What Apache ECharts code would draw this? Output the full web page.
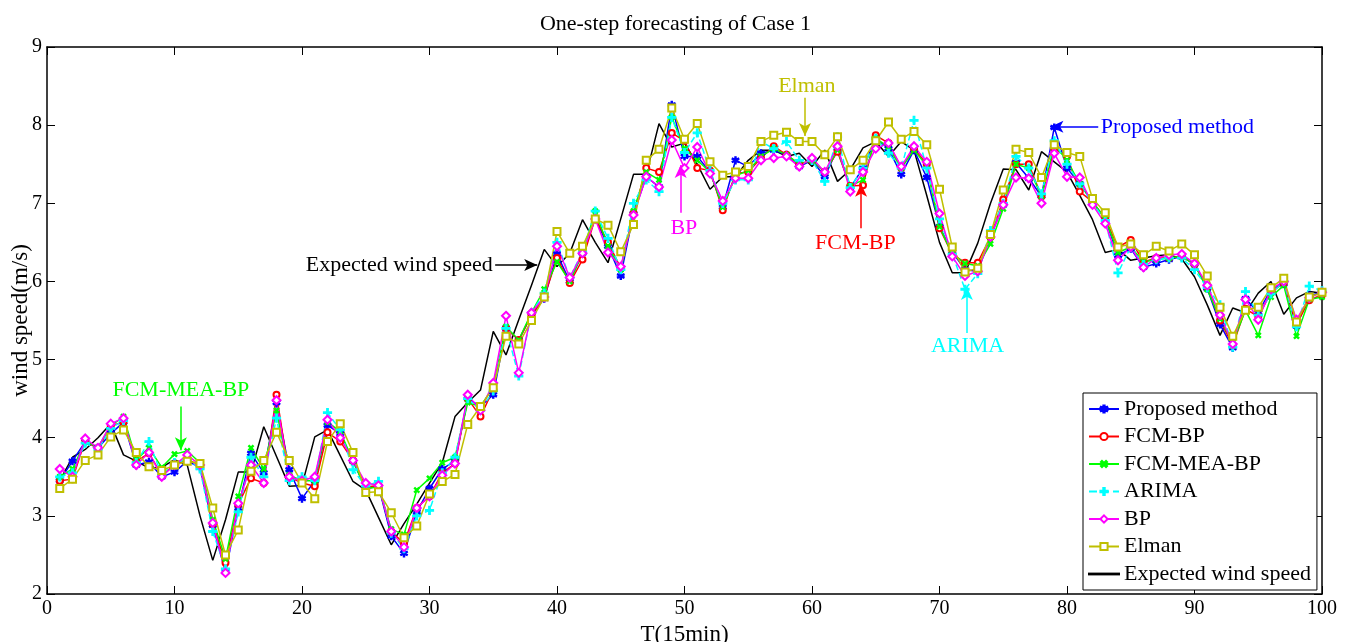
<!DOCTYPE html>
<html>
<head>
<meta charset="utf-8">
<script src="https://cdn.jsdelivr.net/npm/echarts@6/dist/echarts.min.js"></script>
<style>
  html, body { margin: 0; padding: 0; background: #fff; }
  #main { width: 1351px; height: 642px; }
</style>
</head>
<body>
<div id="main"></div>
<script>
// time steps T = 1..100
const steps = Array.from({ length: 100 }, (_, i) => i + 1)

const proposed = [3.45,3.70,3.95,3.87,4.05,4.20,3.65,3.69,3.50,3.56, 3.70,3.62,2.88,2.28,3.10,3.80,3.55,4.45,3.59,3.22,
  3.45,4.16,4.05,3.70,3.35,3.38,2.74,2.52,3.05,3.35, 3.60,3.70,4.50,4.40,4.55,5.40,5.25,5.57,5.78,6.35,
  6.00,6.36,6.81,6.45,6.07,6.87,7.34,7.21,8.26,7.60, 7.60,7.40,6.95,7.55,7.47,7.64,7.68,7.62,7.47,7.55,
  7.34,7.70,7.20,7.45,7.83,7.70,7.37,7.68,7.33,6.70, 6.38,6.15,6.13,6.57,6.98,7.52,7.32,7.09,7.97,7.45,
  7.25,7.02,6.80,6.33,6.42,6.18,6.23,6.28,6.32,6.22, 5.91,5.45,5.15,5.78,5.60,5.90,5.97,5.43,5.82,5.86]
const fcmBp = [3.45,3.47,3.97,3.85,4.15,4.20,3.70,3.80,3.52,3.65, 3.72,3.65,2.90,2.40,3.15,3.48,3.42,4.55,3.50,3.42,
  3.38,4.07,3.95,3.71,3.37,3.39,2.80,2.65,3.10,3.25, 3.55,3.67,4.50,4.27,4.62,5.40,5.25,5.57,5.80,6.30,
  5.98,6.28,6.81,6.50,6.17,6.87,7.45,7.40,7.90,7.80, 7.45,7.42,6.91,7.38,7.40,7.58,7.73,7.62,7.50,7.55,
  7.40,7.66,7.22,7.23,7.87,7.77,7.45,7.70,7.50,6.68, 6.35,6.24,6.24,6.57,7.05,7.50,7.50,7.09,7.70,7.60,
  7.15,7.02,6.80,6.44,6.53,6.25,6.30,6.30,6.32,6.22, 5.93,5.50,5.18,5.65,5.55,5.86,5.98,5.45,5.76,5.83]
const fcmMeaBp = [3.50,3.60,3.95,3.88,4.15,4.27,3.72,3.87,3.62,3.79, 3.83,3.68,2.95,2.45,3.25,3.87,3.60,4.35,3.52,3.45,
  3.45,4.20,4.08,3.70,3.35,3.37,2.83,2.76,3.33,3.48, 3.68,3.75,4.45,4.40,4.65,5.42,5.25,5.60,5.90,6.25,
  6.00,6.36,6.90,6.45,6.15,6.90,7.40,7.30,8.10,7.70, 7.55,7.40,6.95,7.35,7.42,7.60,7.70,7.62,7.50,7.55,
  7.40,7.68,7.22,7.30,7.83,7.72,7.45,7.68,7.48,6.70, 6.35,6.23,6.20,6.48,6.93,7.50,7.45,7.09,7.75,7.55,
  7.25,7.02,6.80,6.37,6.44,6.25,6.28,6.30,6.32,6.22, 5.90,5.52,5.22,5.63,5.31,5.80,5.95,5.30,5.77,5.80]
const arima = [3.50,3.55,3.93,3.85,4.12,4.22,3.68,3.95,3.52,3.68, 3.72,3.60,2.80,2.32,3.05,3.75,3.50,4.25,3.45,3.50,
  3.45,4.32,4.10,3.59,3.38,3.44,2.78,2.58,3.00,3.07, 3.55,3.75,4.50,4.35,4.60,5.40,4.79,5.60,5.85,6.50,
  6.05,6.38,6.90,6.55,6.15,7.00,7.30,7.15,8.10,7.65, 7.90,7.42,7.00,7.30,7.30,7.79,7.70,7.79,7.55,7.55,
  7.28,7.85,7.20,7.45,7.83,7.64,7.45,8.06,7.45,6.80, 6.35,5.90,6.10,6.65,7.00,7.60,7.45,7.12,7.80,7.50,
  7.25,7.00,6.78,6.11,6.44,6.22,6.28,6.30,6.30,6.15, 5.92,5.70,5.16,5.87,5.57,5.84,6.00,5.42,5.94,5.88]
const bp = [3.60,3.50,3.99,3.87,4.18,4.25,3.65,3.81,3.50,3.65, 3.78,3.65,2.91,2.27,3.16,3.65,3.42,4.48,3.50,3.45,
  3.50,4.23,4.00,3.71,3.42,3.39,2.80,2.60,3.10,3.25, 3.52,3.67,4.55,4.35,4.70,5.56,4.83,5.60,5.80,6.45,
  6.05,6.36,6.80,6.37,6.19,6.85,7.34,7.21,7.81,7.45, 7.72,7.38,7.03,7.32,7.32,7.55,7.58,7.60,7.47,7.58,
  7.40,7.73,7.15,7.40,7.70,7.77,7.47,7.73,7.53,6.87, 6.32,6.07,6.13,6.57,6.98,7.33,7.32,7.00,7.64,7.34,
  7.33,6.98,6.74,6.27,6.44,6.18,6.30,6.34,6.35,6.23, 5.95,5.57,5.20,5.77,5.51,5.90,6.00,5.51,5.79,5.86]
const elman = [3.35,3.47,3.71,3.78,4.01,4.10,3.81,3.63,3.58,3.65, 3.70,3.67,3.10,2.50,2.82,3.57,3.71,4.07,3.71,3.42,
  3.22,3.95,4.18,3.81,3.30,3.31,3.04,2.72,2.87,3.28, 3.44,3.53,4.17,4.40,4.64,5.30,5.20,5.50,5.80,6.64,
  6.36,6.45,6.80,6.72,6.38,6.73,7.55,7.69,8.22,7.82, 8.02,7.53,7.36,7.40,7.47,7.79,7.87,7.91,7.79,7.79,
  7.62,7.85,7.43,7.55,7.80,8.04,7.82,7.92,7.75,7.18, 6.44,6.12,6.17,6.60,7.17,7.69,7.65,7.33,7.75,7.65,
  7.60,7.06,6.88,6.44,6.48,6.34,6.45,6.39,6.48,6.34, 6.07,5.67,5.30,5.63,5.67,5.92,6.04,5.48,5.80,5.86]
const expected = [3.45,3.75,3.85,4.00,4.18,3.78,3.70,3.61,3.62,3.72, 3.65,3.00,2.43,2.95,3.56,3.56,4.14,3.76,3.38,3.39,
  4.01,4.10,3.77,3.44,3.33,2.98,2.63,2.90,3.15,3.42, 3.68,4.27,4.45,4.61,5.36,5.06,5.51,5.95,6.41,6.19,
  6.36,6.79,6.50,6.24,6.80,7.37,7.37,8.02,7.72,7.77, 7.50,7.18,7.34,7.34,7.55,7.68,7.68,7.60,7.64,7.47,
  7.68,7.28,7.43,7.71,7.79,7.60,7.79,7.68,7.10,6.50, 6.11,6.11,6.49,7.00,7.44,7.43,7.17,7.66,7.53,7.40,
  7.10,6.79,6.37,6.41,6.27,6.30,6.33,6.34,6.29,6.06, 5.70,5.31,5.66,5.60,5.85,6.00,5.58,5.79,5.87,5.85]

// annotation text [T, speed] and arrow start/end in data units
const notes = [
  { name: "FCM-MEA-BP", color: "#00ff00", text: [10.5, 4.61], from: [10.5, 4.40], to: [10.5, 3.84] },
  { name: "BP", color: "#ff00ff", text: [49.95, 6.68], from: [49.7, 6.88], to: [49.7, 7.49] },
  { name: "Elman", color: "#bfbf00", text: [59.6, 8.5], from: [59.45, 8.35], to: [59.45, 7.86] },
  { name: "FCM-BP", color: "#ff0000", text: [63.4, 6.49], from: [63.85, 6.68], to: [63.85, 7.25] },
  { name: "ARIMA", color: "#00ffff", text: [72.2, 5.17], from: [72.15, 5.34], to: [72.15, 5.93] },
  { name: "Proposed method", color: "#0000ff", text: [82.6, 7.97], from: [82.45, 7.98], to: [78.7, 7.98], align: "left" },
  { name: "Expected wind speed", color: "#000000", text: [35.0, 6.21], from: [35.15, 6.21], to: [38.45, 6.21], align: "right" }
]

const font = "'Liberation Serif', 'Times New Roman', serif"
const plus = "path://M4,0H6V4H10V6H6V10H4V6H0V4H4Z"
const star = "path://M4.2,0H5.8V3.3L8.9,1.9L9.5,3.4L6.5,4.9L9.5,6.6L8.8,8.1L5.8,6.6V10H4.2V6.6L1.2,8.1L0.5,6.6L3.5,4.9L0.5,3.4L1.1,1.9L4.2,3.3Z"

function pairs(arr) {
  return arr.map((v, i) => [steps[i], v])
}

function mkNote(n) {
  return {
    markPoint: {
      silent: true,
      symbol: "circle",
      symbolSize: 1,
      itemStyle: { color: "rgba(0,0,0,0)" },
      label: {
        show: true,
        position: n.align === "left" ? "right" : n.align === "right" ? "left" : "inside",
        distance: 0,
        formatter: n.name,
        color: n.color,
        fontFamily: font,
        fontSize: 22
      },
      data: [{ coord: n.text }]
    },
    markLine: {
      silent: true,
      symbol: ["none", "arrow"],
      symbolSize: [9, 13],
      lineStyle: { color: n.color, type: "solid", width: 1.5 },
      label: { show: false },
      data: [[{ coord: n.from }, { coord: n.to }]]
    }
  }
}

const seriesDefs = [
  { name: "Proposed method", data: proposed, color: "#0000ff", symbol: star, size: 7 },
  { name: "FCM-BP", data: fcmBp, color: "#ff0000", symbol: "emptyCircle", size: 6 },
  { name: "FCM-MEA-BP", data: fcmMeaBp, color: "#00ff00", symbol: plus, size: 6, rotate: 45 },
  { name: "ARIMA", data: arima, color: "#00ffff", symbol: plus, size: 8, dash: "dashed" },
  { name: "BP", data: bp, color: "#ff00ff", symbol: "emptyDiamond", size: 8 },
  { name: "Elman", data: elman, color: "#bfbf00", symbol: "emptyRect", size: 7 },
  { name: "Expected wind speed", data: expected, color: "#000000", symbol: "none", size: 0 }
]

const series = seriesDefs.map(d => {
  const note = notes.find(n => n.name === d.name)
  const s = {
    name: d.name,
    type: "line",
    data: pairs(d.data),
    symbol: d.symbol,
    symbolSize: d.size,
    symbolRotate: d.rotate || 0,
    showAllSymbol: true,
    color: d.color,
    itemStyle: { color: d.color, borderColor: d.color, borderWidth: 1.2 },
    lineStyle: { color: d.color, width: 1.5, type: d.dash || "solid" },
    emphasis: { disabled: true },
    animation: false,
    z: d.name === "Expected wind speed" ? 1 : 2
  }
  if (note) Object.assign(s, mkNote(note))
  return s
})

// legend entries; the expected series gets a plain line icon (no marker)
const legendData = seriesDefs.map(d =>
  d.symbol === "none" ? { name: d.name, icon: "path://M0,4.6H30V5.4H0Z" } : { name: d.name }
)

const axisCommon = {
  axisLine: { show: true, onZero: false, lineStyle: { color: "#000", width: 1.5 } },
  axisTick: { show: true, inside: true, length: 8, lineStyle: { color: "#000", width: 1 } },
  splitLine: { show: false }
}

let option = {
  backgroundColor: "#fff",
  animation: false,
  title: {
    text: "One-step forecasting of Case 1",
    left: "center",
    top: 8,
    textStyle: { fontFamily: font, fontSize: 22, fontWeight: "normal", color: "#000" }
  },
  grid: { left: 47, right: 29, top: 47, bottom: 48, containLabel: false, outerBoundsMode: "none" },
  legend: {
    orient: "vertical",
    left: 1083,
    top: 393,
    padding: [5, 6, 5, 5],
    itemWidth: 30,
    itemHeight: 9,
    itemGap: 5.5,
    borderColor: "#000",
    borderWidth: 1,
    backgroundColor: "#fff",
    textStyle: { fontFamily: font, fontSize: 22, color: "#000", lineHeight: 22 },
    data: legendData
  },
  xAxis: [
    Object.assign({
      type: "value", min: 0, max: 100, interval: 10, position: "bottom",
      name: "T(15min)", nameLocation: "middle", nameGap: 25,
      nameTextStyle: { fontFamily: font, fontSize: 23, color: "#000" },
      axisLabel: { fontFamily: font, fontSize: 20, color: "#000", margin: 5 }
    }, axisCommon),
    Object.assign({
      type: "value", min: 0, max: 100, interval: 10, position: "top",
      axisLabel: { show: false }
    }, axisCommon)
  ],
  yAxis: [
    Object.assign({
      type: "value", min: 2, max: 9, interval: 1, position: "left",
      name: "wind speed(m/s)", nameLocation: "middle", nameGap: 15, nameMoveOverlap: false,
      nameTextStyle: { fontFamily: font, fontSize: 23, color: "#000" },
      axisLabel: { fontFamily: font, fontSize: 20, color: "#000", margin: 5 }
    }, axisCommon),
    Object.assign({
      type: "value", min: 2, max: 9, interval: 1, position: "right",
      axisLabel: { show: false }
    }, axisCommon)
  ],
  series
}

const myChart = echarts.init(document.getElementById("main"))
myChart.setOption(option)
window.addEventListener("resize", function () {
  myChart.resize()
})
</script>
</body>
</html>
